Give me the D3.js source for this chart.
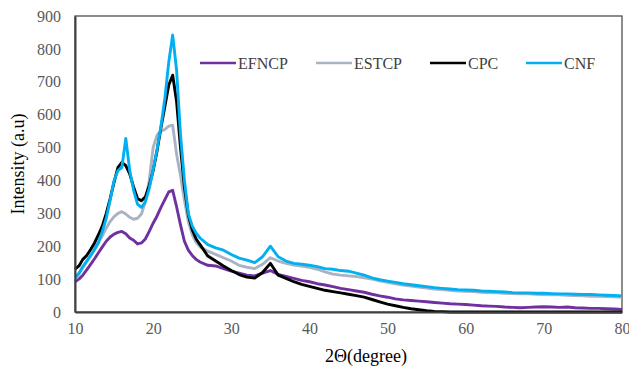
<!DOCTYPE html>
<html>
<head>
<meta charset="utf-8">
<script src="https://cdn.jsdelivr.net/npm/d3@7"></script>
<style>
  body { margin: 0; background: #fff; }
</style>
</head>
<body>
<div id="chart"></div>
<script>
// 2-theta angles shared by all series
var angles = [10,10.5,11,11.5,12,12.5,13,13.5,14,14.5,15,15.5,16,16.5,17,17.5,18,18.5,19,19.5,20,20.5,21,21.5,22,22.5,23,23.5,24,24.5,25,25.5,26,
  27,28,29,30,31,32,33,34,35,36,37,38,39,40,41,42,43,44,45,46,47,48,49,50,51,52,53,54,55,56,57,58,59,60,61,62,63,64,65,66,67,68,69,70,71,72,73,74,75,76,77,78,79,80];

var efncp = [92,100,112,128,145,162,180,198,215,228,237,242,245,238,225,218,207,210,222,245,270,292,318,342,365,370,320,265,215,188,172,160,152,
  142,140,132,124,118,112,110,118,126,114,108,102,96,92,86,82,77,72,68,64,60,54,49,45,40,37,35,33,31,29,27,25,24,23,21,19,18,17,15,14,13,14,15,16,15,14,15,13,12,11,11,10,9,8];

var estcp = [100,115,135,152,170,190,210,232,255,275,290,300,305,298,288,282,285,298,335,400,500,538,550,555,565,568,480,415,340,275,235,212,198,
  185,175,165,155,142,136,132,145,165,155,148,143,140,136,130,122,115,112,110,108,104,100,95,90,86,82,79,76,73,70,68,66,64,63,62,60,59,58,57,56,55,55,54,53,52,52,51,50,49,48,48,47,46,45];

var cpc = [130,140,160,172,190,210,235,262,300,345,395,440,455,445,420,380,345,338,350,385,430,490,560,625,690,720,640,500,380,295,250,222,205,
  170,155,140,126,114,106,103,120,148,112,102,92,84,78,72,66,62,58,54,50,45,38,31,24,19,14,10,7,4,2,1,0,0,0,0,0,0,0,0,0,0,0,0,0,0,0,0,0,0,0,0,0,0,0];

var cnf = [105,118,138,155,172,190,212,245,285,340,400,430,440,528,430,370,328,318,335,375,432,495,565,650,760,842,735,540,400,300,262,240,225,
  205,195,188,175,164,158,150,168,200,168,155,148,145,142,138,132,130,126,124,118,112,104,98,94,90,86,83,80,77,74,72,70,68,67,66,64,63,62,61,59,58,58,57,57,56,55,55,54,53,53,52,51,50,49];

var seriesNames = ["EFNCP", "ESTCP", "CPC", "CNF"];
var seriesColors = ["#7030a0", "#a9b3c4", "#000000", "#00b0f0"];
var seriesValues = [efncp, estcp, cpc, cnf];

var xTicks = [10,20,30,40,50,60,70,80];
var yTicks = [0,100,200,300,400,500,600,700,800,900];

var W = 629, H = 371;
var margin = {top: 16, right: 7, bottom: 59, left: 75},
    width = W - margin.left - margin.right,
    height = H - margin.top - margin.bottom;

var svg = d3.select("#chart").append("svg")
    .attr("width", W)
    .attr("height", H);

var g = svg.append("g")
    .attr("transform", "translate(" + margin.left + "," + margin.top + ")");

var x = d3.scaleLinear().domain([10, 80]).range([0, width]);
var y = d3.scaleLinear().domain([0, 900]).range([height, 0]);

// plot frame
g.append("rect")
    .attr("width", width)
    .attr("height", height)
    .attr("fill", "none")
    .attr("stroke", "#404040")
    .attr("stroke-width", 1.2);

// series lines
var line = d3.line()
    .x(function(d) { return x(d[0]); })
    .y(function(d) { return y(d[1]); });

seriesValues.forEach(function(vals, i) {
  var pts = angles.map(function(a, j) { return [a, vals[j]]; });
  g.append("path")
      .datum(pts)
      .attr("fill", "none")
      .attr("stroke", seriesColors[i])
      .attr("stroke-width", 2.9)
      .attr("stroke-linejoin", "round")
      .attr("d", line);
});

// axes
var xAxis = d3.axisBottom(x).tickValues(xTicks).tickSize(0).tickPadding(11);
var yAxis = d3.axisLeft(y).tickValues(yTicks).tickSize(0).tickPadding(14);

function styleAxis(s) {
  s.attr("font-family", "Liberation Serif").attr("font-size", 16);
  s.select(".domain").attr("stroke", "#404040").attr("stroke-width", 2);
  s.selectAll("text").attr("fill", "#595959");
}

g.append("g")
    .attr("transform", "translate(0," + height + ")")
    .call(xAxis)
    .call(styleAxis);

g.append("g")
    .call(yAxis)
    .call(styleAxis);

// axis titles
svg.append("text")
    .attr("x", 366)
    .attr("y", 362)
    .attr("text-anchor", "middle")
    .attr("font-family", "Liberation Serif")
    .attr("font-size", 18)
    .attr("fill", "#000")
    .text("2\u0398(degree)");

svg.append("text")
    .attr("transform", "translate(24," + (margin.top + height / 2) + ") rotate(-90)")
    .attr("text-anchor", "middle")
    .attr("font-family", "Liberation Serif")
    .attr("font-size", 18)
    .attr("fill", "#000")
    .text("Intensity (a.u)");

// legend
var legendX = [200, 316, 430, 526];
seriesNames.forEach(function(name, i) {
  var lg = svg.append("g").attr("transform", "translate(" + legendX[i] + ",63)");
  lg.append("line")
      .attr("x1", 0).attr("x2", 36)
      .attr("y1", 0).attr("y2", 0)
      .attr("stroke", seriesColors[i])
      .attr("stroke-width", 2.6);
  lg.append("text")
      .attr("x", 38)
      .attr("y", 5.5)
      .attr("font-family", "Liberation Serif")
      .attr("font-size", 16)
      .attr("fill", "#404040")
      .text(name);
});
</script>
</body>
</html>
